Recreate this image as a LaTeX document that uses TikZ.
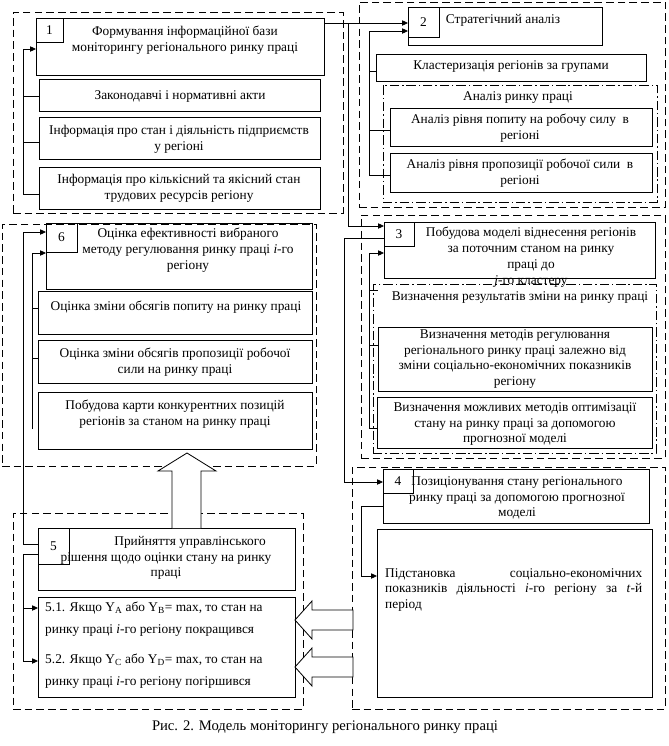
\documentclass[tikz,border=0pt]{standalone}
\usepackage{fontspec}
\setmainfont{Liberation Serif}
\usetikzlibrary{arrows.meta,calc}
\newcommand\fs{\fontsize{11.4}{13.5}\selectfont}
\newcommand\bxn[7][bx]{\node[#1, minimum width={(#5-#3)*0.03cm}, minimum height={(#6-#4)*0.03cm}] (#2) at ({(#3+#5)/2},{(#4+#6)/2}) {#7};}
\tikzset{
  bx/.style={draw, line width=0.7pt, inner sep=0pt, outer sep=0pt, font=\fs},
  reg/.style={draw, line width=0.7pt, inner sep=0pt, outer sep=0pt, dash pattern=on 6.5pt off 3.5pt},
  dd/.style={draw, line width=0.7pt, inner sep=0pt, outer sep=0pt, dash pattern=on 8pt off 2.5pt on 1.2pt off 2.5pt},
  txt/.style={font=\fs, align=center, inner sep=0pt},
  ln/.style={line width=0.7pt},
  arr/.style={line width=0.7pt, -{Triangle[length=5pt,width=4.5pt]}},
  blk/.style={line width=0.7pt, fill=white, line join=miter},
}
\begin{document}
\begin{tikzpicture}[x=0.03cm, y=-0.03cm]
\useasboundingbox (0,0) rectangle (669,746);
% regions
\bxn[reg]{r1}{13}{12}{343}{213}{}
\bxn[reg]{r2}{359}{2}{665}{207}{}
\bxn[reg]{r6}{2}{224}{316}{466}{}
\bxn[reg]{r3}{361}{215}{665}{458}{}
\bxn[reg]{r4}{352}{467}{665}{709}{}
\bxn[reg]{r5}{13}{513}{303}{709}{}
\bxn[dd]{d2}{383}{85}{657}{202}{}
\bxn[dd]{d3}{373}{284}{656}{453}{}
% boxes
\bxn{b1}{36}{18}{324}{75}{}
\bxn{n1}{36}{18}{63}{42}{1}
\bxn{b1a}{39}{79}{320}{111}{}
\bxn{b1b}{39}{117}{320}{159}{}
\bxn{b1c}{39}{167}{320}{209}{}
\bxn{b2}{408}{7}{602}{45}{}
\bxn{n2}{408}{7}{439}{37}{2}
\bxn{b2a}{376}{54}{646}{81}{}
\bxn{b2b}{390}{108}{652}{146}{}
\bxn{b2c}{390}{153}{652}{192}{}
\bxn{b3}{384}{222}{655}{278}{}
\bxn{n3}{384}{222}{414}{246}{3}
\bxn{b3b}{378}{327}{652}{391}{}
\bxn{b3c}{377}{397}{652}{448}{}
\bxn{b4}{383}{469}{649}{523}{}
\bxn{n4}{383}{469}{413}{493}{4}
\bxn{b4a}{377}{529}{652}{697}{}
\bxn{b5}{38}{528}{295}{590}{}
\bxn{n5}{38}{528}{69}{564}{5}
\bxn{b51}{38}{597}{295}{697}{}
\bxn{b6}{46}{223}{312}{289}{}
\bxn{n6}{46}{223}{77}{252}{6}
\bxn{b6a}{38}{291}{312}{334}{}
\bxn{b6b}{38}{340}{312}{383}{}
\bxn{b6c}{38}{392}{312}{449}{}
% texts
\node[txt] (t1) at (185,40) {Формування інформаційної бази\\моніторингу регіонального ринку праці};
\node[txt] (t1a) at (180,96) {Законодавчі і нормативні акти};
\node[txt] (t1b) at (179,139) {Інформація про стан і діяльність підприємств\\у регіоні};
\node[txt] (t1c) at (179,188) {Інформація про кількісний та якісний стан\\трудових ресурсів регіону};
\node[txt] (t2) at (503,20) {Стратегічний аналіз};
\node[txt] (t2a) at (511,67) {Кластеризація регіонів за групами};
\node[txt] (t2t) at (518,98) {Аналіз ринку праці};
\node[txt] (t2b) at (520,128) {Аналіз рівня попиту на робочу силу\ \ в\\регіоні};
\node[txt] (t2c) at (520,173) {Аналіз рівня пропозиції робочої сили\ \ в\\регіоні};
\node[txt] (t3) at (531,257) {Побудова моделі віднесення регіонів\\за поточним станом на ринку\\праці до\\\textit{j}-го кластеру};
\node[txt] (t3t) at (520,298) {Визначення результатів зміни на ринку праці};
\node[txt] (t3b) at (515,359) {Визначення методів регулювання\\регіонального ринку праці залежно від\\зміни соціально-економічних показників\\регіону};
\node[txt] (t3c) at (515,424) {Визначення можливих методів оптимізації\\стану на ринку праці за допомогою\\прогнозної моделі};
\node[txt] (t4) at (517,498) {Позиціонування стану регіонального\\ринку праці за допомогою прогнозної\\моделі};
\node[txt, anchor=north west, align=left, text width={257*0.03cm}] (t4a) at (385,568) {Підстановка\hfill соціально-економічних\\ показників\hfill діяльності\hfill \textit{i}-го\hfill регіону\hfill за\hfill \textit{t}-й\\ період};
\node[txt] (t5) at (166,558) {\hspace*{3.6em}Прийняття управлінського\\рішення щодо оцінки стану на ринку\\праці};
\node[txt, anchor=west, align=left, font=\fontsize{11.4}{18.7}\selectfont] (t51) at (45,619) {5.1. Якщо Y\textsubscript{A} або Y\textsubscript{B}= max, то стан на\\ринку праці \textit{i}-го регіону покращився};
\node[txt, anchor=west, align=left, font=\fontsize{11.4}{18.7}\selectfont] (t52) at (45,671.5) {5.2. Якщо Y\textsubscript{C} або Y\textsubscript{D}= max, то стан на\\ринку праці \textit{i}-го регіону погіршився};
\node[txt] (t6) at (188,250) {Оцінка ефективності вибраного\\методу регулювання ринку праці \textit{i}-го\\регіону};
\node[txt] (t6a) at (176,307) {Оцінка зміни обсягів попиту на ринку праці};
\node[txt] (t6b) at (175,362) {Оцінка зміни обсягів пропозиції робочої\\сили на ринку праці};
\node[txt] (t6c) at (175,414) {Побудова карти конкурентних позицій\\регіонів за станом на ринку праці};
\node[inner sep=0pt, font=\fontsize{12.5}{14}\selectfont] (cap) at (325,727) {Рис. 2. Модель моніторингу регіонального ринку праці};
% connectors
\draw[arr] ($(b1.north east)+(0,5)$) -- ($(b2.north west)+(0,16)$);
\draw[arr] ($(b1.north east)+(24,5)$) |- ($(b3.north west)+(0,4)$);
\draw[arr] ($(b1c.north west)+(-16,27)$) |- ($(b1.north west)+(0,31)$);
\draw[ln] ($(b1a.north west)+(0,17)$) -- ++(-16,0);
\draw[ln] ($(b1b.north west)+(0,25)$) -- ++(-16,0);
\draw[ln] ($(b1c.north west)+(0,27)$) -- ++(-16,0);
\draw[arr] ($(b2c.north west)+(-21,22)$) |- ($(b2.north west)+(0,24)$);
\draw[ln] ($(b2a.north west)+(0,17)$) -- ++(-7,0);
\draw[ln] ($(b2b.north west)+(0,22)$) -- ++(-21,0);
\draw[ln] ($(b2c.north west)+(0,22)$) -- ++(-21,0);
\draw[arr] ($(b3c.north west)+(-8,31)$) |- ($(b3.north west)+(0,31)$);
\draw[ln] ($(d3.north west)+(-4,6)$) -- ++(9,0);
\draw[ln] ($(b3b.north west)+(0,18)$) -- ++(-9,0);
\draw[ln] ($(b3c.north west)+(0,31)$) -- ++(-8,0);
\draw[arr] ($(b3.north west)+(0,16)$) -- ++(-40,0) |- ($(b4.north west)+(0,13)$);
\draw[arr] ($(b4.north west)+(0,37)$) -- ++(-22,0) |- ($(b4a.north west)+(0,47)$);
\draw[arr] ($(b5.north west)+(0,16)$) -- ++(-15,0) |- ($(b6.north west)+(0,9)$);
\draw[arr] ($(b6c.north west)+(-6,37)$) |- ($(b6.north west)+(0,30)$);
\draw[ln] ($(b6a.north west)+(0,17)$) -- ++(-6,0);
\draw[ln] ($(b6b.north west)+(0,18)$) -- ++(-6,0);
\draw[arr] ($(b5.north west)+(0,26)$) -- ++(-15,0) coordinate (v5) |- ($(b51.north west)+(0,64)$);
\draw[arr] ($(b51.north west)+(-15,11)$) -- ($(b51.north west)+(0,11)$);
% block arrows
\draw[blk] ($(b5.north west)+(134,0)$) -- ++(0,-57) -- ++(-14,0) -- ++(29,-18) -- ++(29,18) -- ++(-15,0) -- ++(0,57);
\draw[blk] ($(b51.north east)+(0,23)$) -- ++(17,-19) -- ++(0,9) -- ++(41,0) -- ++(0,20) -- ++(-41,0) -- ++(0,9) -- cycle;
\draw[blk] ($(b51.north east)+(0,70)$) -- ++(17,-19) -- ++(0,9) -- ++(41,0) -- ++(0,20) -- ++(-41,0) -- ++(0,9) -- cycle;
\end{tikzpicture}
\end{document}
